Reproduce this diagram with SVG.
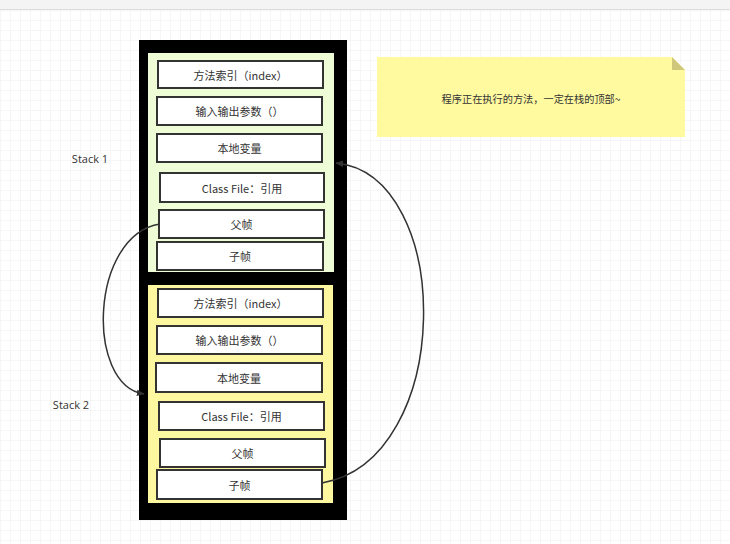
<svg xmlns="http://www.w3.org/2000/svg" width="730" height="544" viewBox="0 0 730 544">
<defs>
<pattern id="grid" width="10" height="10" patternUnits="userSpaceOnUse" x="0" y="0">
<path d="M10 0H0V10" fill="none" stroke="#eeeeee" stroke-width="1"/>
</pattern>
<marker id="arr" viewBox="0 0 10 10" refX="9" refY="5" markerWidth="8" markerHeight="8" orient="auto" markerUnits="userSpaceOnUse">
<path d="M0,1 L10,5 L0,9 Z" fill="#333"/>
</marker>
<style>
.cell{fill:#fff;stroke:#333;stroke-width:2}
.t{font-family:"Noto Sans CJK SC","Open Sans",sans-serif;font-size:11px;fill:#333;text-anchor:middle;dominant-baseline:central}
.lbl{font-family:"Open Sans","Noto Sans CJK SC",sans-serif;font-size:11px;fill:#333;text-anchor:middle;dominant-baseline:central}
.conn{fill:none;stroke:#333;stroke-width:1.5}
</style>
</defs>
<rect width="730" height="544" fill="#fff"/>
<rect width="730" height="544" fill="url(#grid)"/>
<rect x="0" y="0" width="730" height="9" fill="#f4f4f4"/>
<line x1="0" y1="9.5" x2="730" y2="9.5" stroke="#ddd"/>

<g id="frame">
<rect x="139" y="40" width="208" height="480" fill="#000"/>
</g>
<g id="stack1">
<rect x="148" y="53" width="186" height="219" fill="#eefdd6"/>
</g>
<g id="stack2">
<rect x="148" y="285" width="185" height="218" fill="#fdf7a0"/>
</g>

<g id="s1-index"><rect class="cell" x="158" y="61" width="165" height="27"/><text class="t" x="240.5" y="74.5">方法索引（index）</text></g>
<g id="s1-io"><rect class="cell" x="157" y="97" width="165" height="28"/><text class="t" x="239.5" y="111">输入输出参数（）</text></g>
<g id="s1-local"><rect class="cell" x="157" y="134" width="165" height="28"/><text class="t" x="239.5" y="148">本地变量</text></g>
<g id="s1-class"><rect class="cell" x="160" y="173" width="164" height="29"/><text class="t" x="242" y="187.5">Class File：引用</text></g>
<g id="s1-parent"><rect class="cell" x="159" y="210" width="165" height="28"/><text class="t" x="241.5" y="224">父帧</text></g>
<g id="s1-child"><rect class="cell" x="157" y="242" width="166" height="28"/><text class="t" x="240" y="256">子帧</text></g>

<g id="s2-index"><rect class="cell" x="158" y="289" width="165" height="28"/><text class="t" x="240.5" y="303">方法索引（index）</text></g>
<g id="s2-io"><rect class="cell" x="157" y="326" width="165" height="28"/><text class="t" x="239.5" y="340">输入输出参数（）</text></g>
<g id="s2-local"><rect class="cell" x="156" y="363" width="166" height="29"/><text class="t" x="239" y="377.5">本地变量</text></g>
<g id="s2-class"><rect class="cell" x="159" y="402" width="165" height="28"/><text class="t" x="241.5" y="416">Class File：引用</text></g>
<g id="s2-parent"><rect class="cell" x="160" y="439" width="165" height="28"/><text class="t" x="242.5" y="453">父帧</text></g>
<g id="s2-child"><rect class="cell" x="157" y="470" width="165" height="29"/><text class="t" x="239.5" y="484.5">子帧</text></g>

<g id="label-stack1"><text class="lbl" x="90" y="158">Stack 1</text></g>
<g id="label-stack2"><text class="lbl" x="71" y="404">Stack 2</text></g>

<g id="note">
<path d="M377,57 H672 L685,70 V137 H377 Z" fill="#fffaa0"/>
<path d="M672,57 L685,70 H672 Z" fill="#cfc77a"/>
<text class="t" x="531" y="98" style="font-size:10.2px">程序正在执行的方法，一定在栈的顶部~</text>
</g>

<g id="connectors">
<path class="conn" d="M160,224 C90,235 85,385 144,394" marker-end="url(#arr)"/>
<path class="conn" d="M322,483 C455,460 455,175 336,163" marker-end="url(#arr)"/>
</g>
</svg>
